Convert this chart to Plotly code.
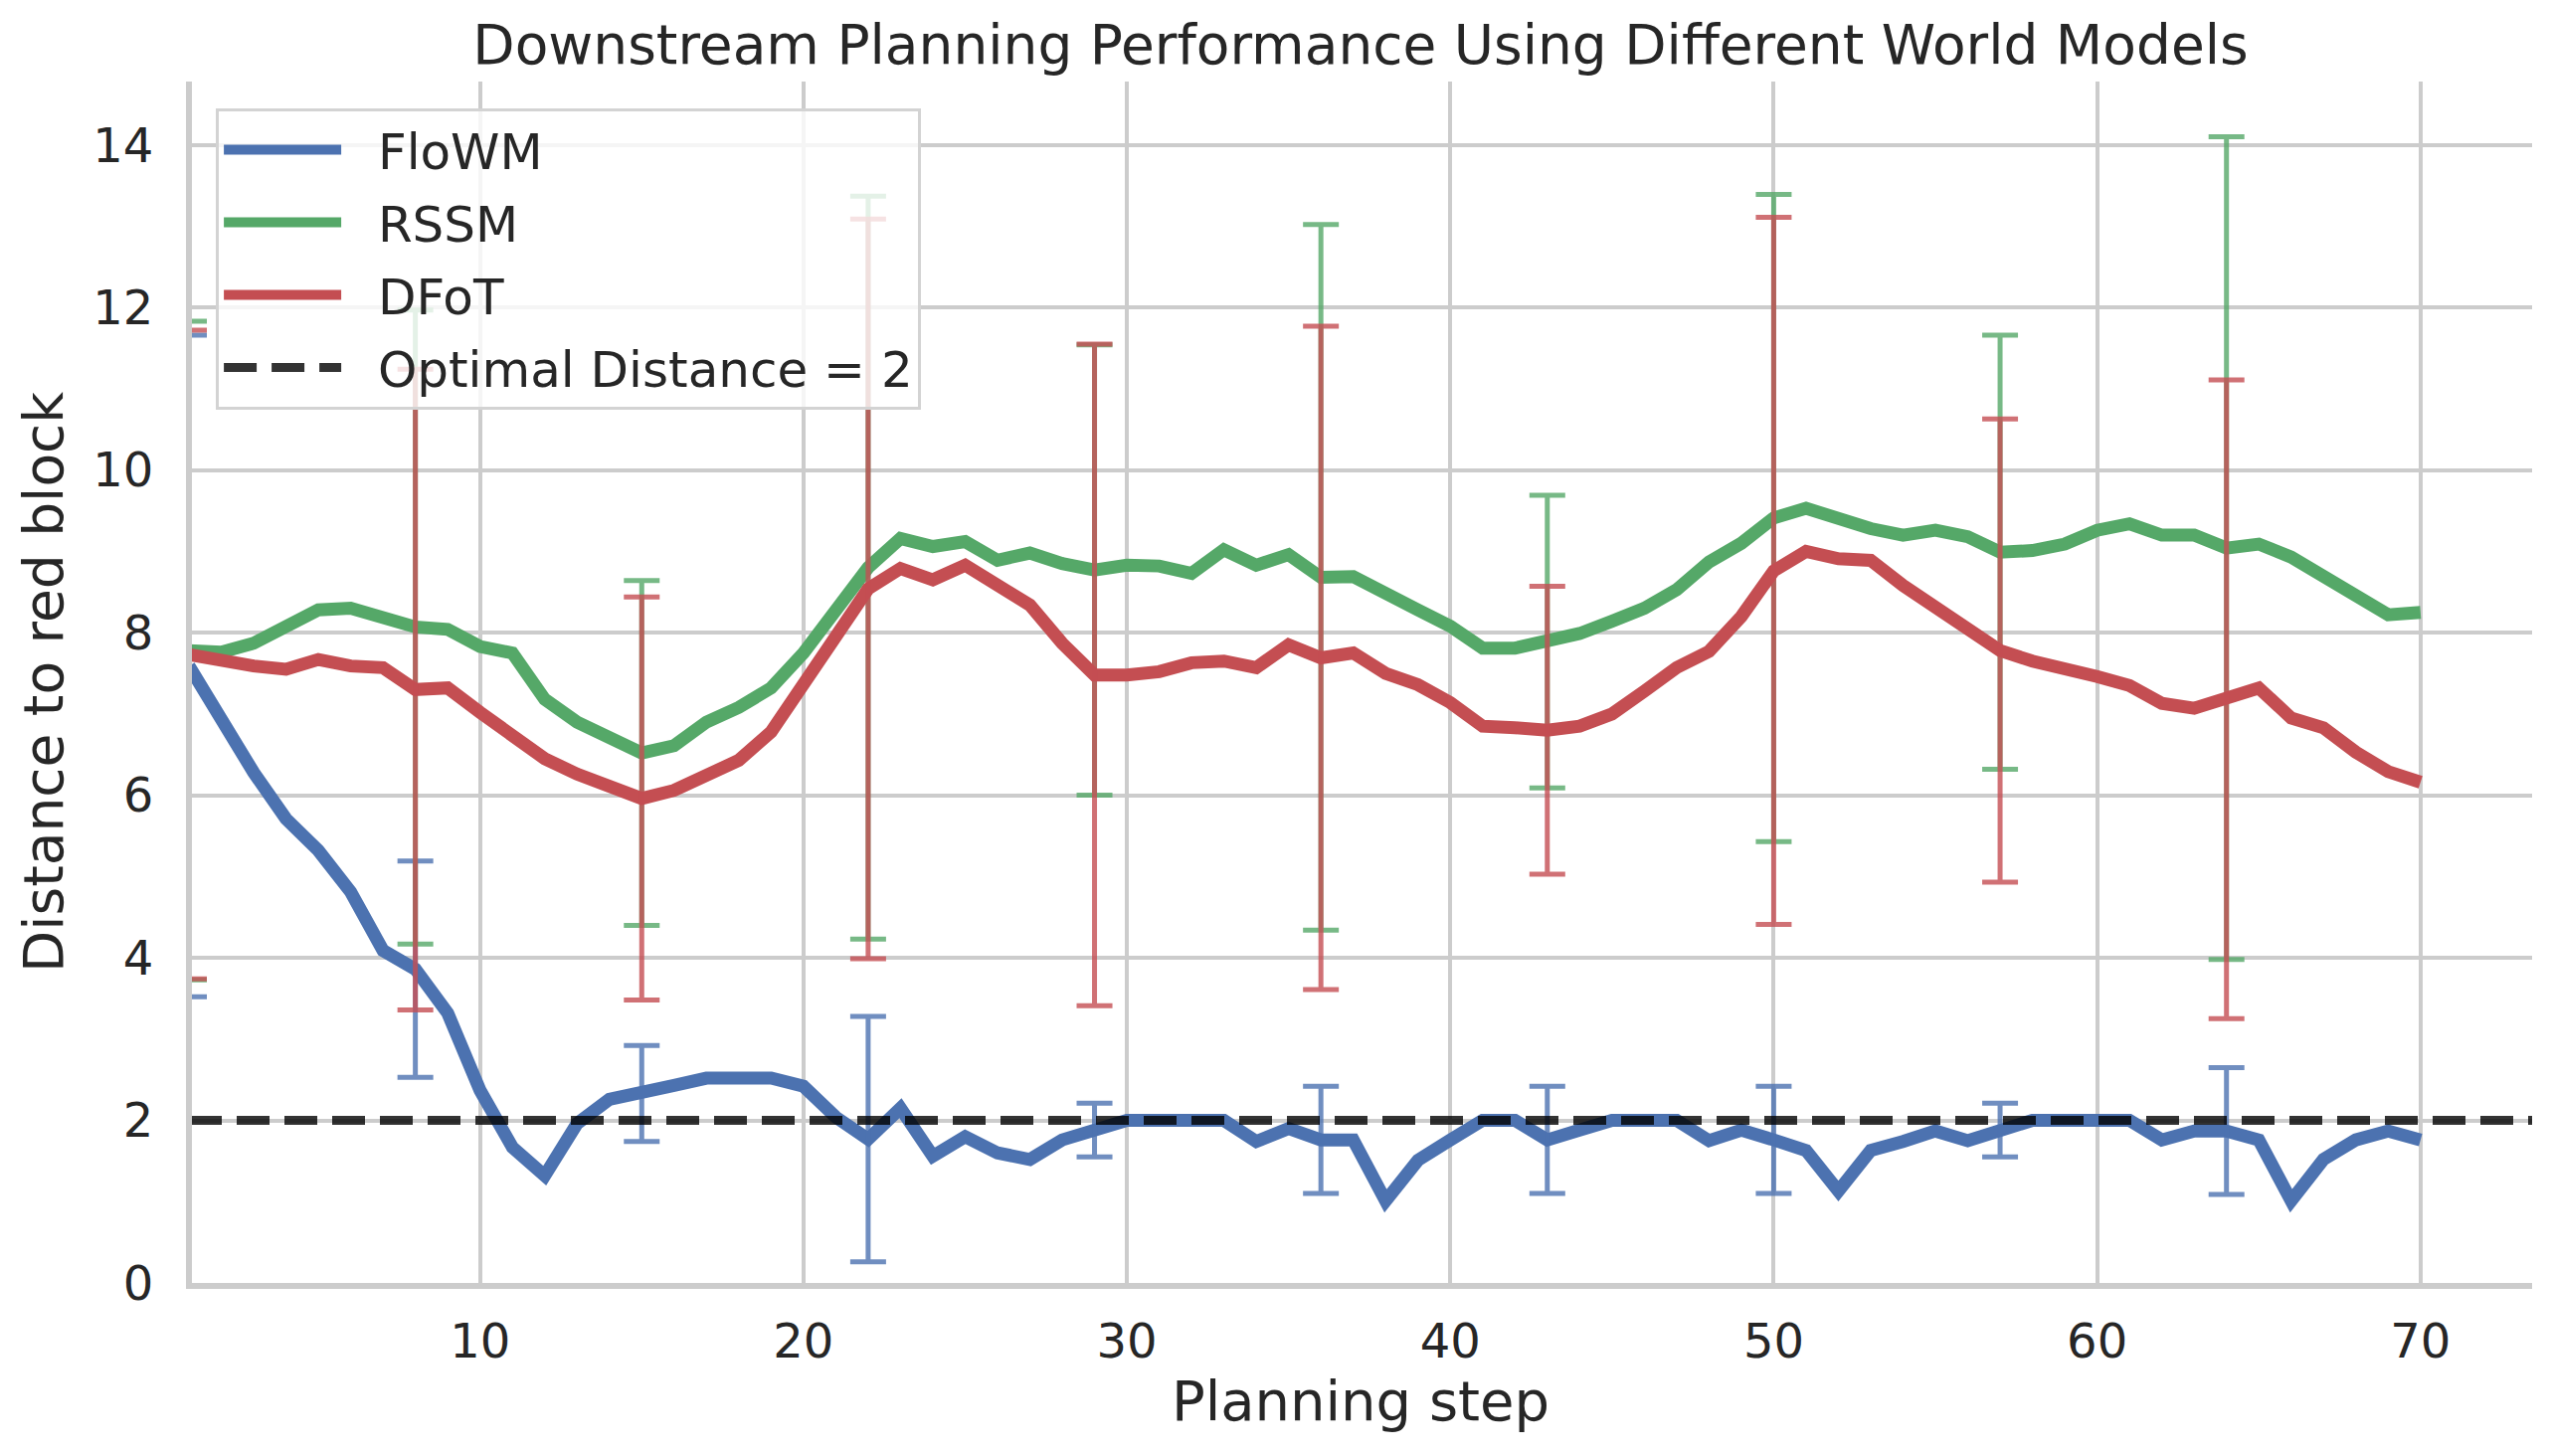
import plotly.graph_objects as go

# ---------------- data ----------------
steps = list(range(1, 71))

flowm = [7.59, 6.94, 6.28, 5.71, 5.32, 4.81, 4.09, 3.86, 3.32, 2.37,
         1.67, 1.32, 1.96, 2.26, 2.33, 2.43, 2.52, 2.52, 2.52, 2.42,
         2.04, 1.77, 2.15, 1.56, 1.80, 1.60, 1.52, 1.76, 1.88, 2.00,
         2.00, 2.00, 2.00, 1.74, 1.90, 1.76, 1.76, 1.01, 1.51, 1.76,
         2.00, 2.00, 1.76, 1.88, 2.00, 2.00, 2.00, 1.75, 1.88, 1.76,
         1.63, 1.13, 1.63, 1.74, 1.87, 1.75, 1.88, 2.00, 2.00, 2.00,
         2.00, 1.76, 1.87, 1.87, 1.76, 1.01, 1.52, 1.76, 1.87, 1.76]

rssm = [7.78, 7.76, 7.87, 8.08, 8.28, 8.30, 8.20, 8.07, 8.04, 7.83,
        7.75, 7.18, 6.90, 6.73, 6.52, 6.61, 6.90, 7.08, 7.32, 7.75,
        8.28, 8.80, 9.16, 9.06, 9.12, 8.89, 8.98, 8.85, 8.77, 8.83,
        8.82, 8.73, 9.02, 8.83, 8.96, 8.68, 8.69, 8.47, 8.28, 8.08,
        7.81, 7.81, 7.89, 7.99, 8.14, 8.30, 8.53, 8.87, 9.10, 9.41,
        9.53, 9.40, 9.28, 9.20, 9.26, 9.18, 8.99, 9.01, 9.09, 9.26,
        9.34, 9.20, 9.20, 9.04, 9.09, 8.93, 8.69, 8.47, 8.22, 8.25]

dfot = [7.73, 7.65, 7.59, 7.55, 7.67, 7.59, 7.57, 7.30, 7.32, 7.02,
        6.71, 6.45, 6.26, 6.10, 5.96, 6.06, 6.24, 6.43, 6.78, 7.35,
        7.92, 8.54, 8.79, 8.65, 8.83, 8.57, 8.34, 7.87, 7.48, 7.48,
        7.52, 7.63, 7.65, 7.57, 7.85, 7.69, 7.75, 7.50, 7.36, 7.14,
        6.85, 6.83, 6.80, 6.85, 7.00, 7.28, 7.57, 7.77, 8.20, 8.76,
        9.00, 8.91, 8.89, 8.58, 8.32, 8.05, 7.78, 7.65, 7.57, 7.46,
        7.35, 7.13, 7.07, 7.18, 7.32, 6.95, 6.83, 6.53, 6.29, 6.16]

err_steps = [1, 8, 15, 22, 29, 36, 43, 50, 57, 64]
flowm_err = [4.07, 1.33, 0.59, 1.51, 0.33, 0.66, 0.66, 0.66, 0.33, 0.78]
rssm_err = [4.05, 3.90, 2.12, 4.57, 2.77, 4.34, 1.80, 3.98, 2.67, 5.06]
dfot_err = [3.99, 3.94, 2.48, 4.55, 4.07, 4.08, 1.77, 4.35, 2.85, 3.93]

optimal_distance = 2
x_min, x_max = 1, 73.45
y_min, y_max = 0, 14.78
x_ticks = [10, 20, 30, 40, 50, 60, 70]
y_ticks = [0, 2, 4, 6, 8, 10, 12, 14]

series = [
    ("FloWM", flowm, flowm_err, "#4C72B0", "rgba(76,114,176,0.8)"),
    ("RSSM", rssm, rssm_err, "#55A868", "rgba(85,168,104,0.8)"),
    ("DFoT", dfot, dfot_err, "#C44E52", "rgba(196,78,82,0.8)"),
]

FONT = "DejaVu Sans"
TXT = "#262626"
SPINE = "#cccccc"
PAD = "\u00a0\u00a0"  # gap between legend sample and label

fig = go.Figure()
for i, (name, vals, errs, col, ecol) in enumerate(series):
    fig.add_trace(go.Scatter(
        x=steps, y=vals, mode="lines", name=PAD + name, legendgroup=f"g{i}",
        line=dict(color=col, width=13),
    ))
    fig.add_trace(go.Scatter(
        x=err_steps, y=[vals[s - 1] for s in err_steps], mode="markers",
        marker=dict(size=1, color="rgba(0,0,0,0)"), legendgroup=f"g{i}",
        error_y=dict(type="data", array=errs, color=ecol, thickness=5, width=18),
        showlegend=False, hoverinfo="skip",
    ))

fig.add_trace(go.Scatter(
    x=[x_min, x_max], y=[optimal_distance, optimal_distance], mode="lines",
    name=PAD + f"Optimal Distance = {optimal_distance}", legendgroup="g3",
    line=dict(color="rgba(0,0,0,0.8)", width=9, dash="33px,15px"),
))

# left spine drawn above the data (as matplotlib does)
fig.add_shape(type="line", xref="x", yref="paper", x0=x_min, x1=x_min, y0=0, y1=1,
              line=dict(color=SPINE, width=6), layer="above")

fig.update_layout(
    template="none",
    width=2566, height=1464,
    margin=dict(l=190, r=20, t=82, b=174, autoexpand=False),
    paper_bgcolor="white", plot_bgcolor="white",
    font=dict(family=FONT, color=TXT, size=48),
    title=dict(
        text="Downstream Planning Performance Using Different World Models",
        font=dict(family=FONT, size=55, color=TXT),
        x=0.5, xref="paper", xanchor="center",
        y=1 - 45 / 1464, yref="container", yanchor="middle",
    ),
    legend=dict(
        x=0.0115, y=0.978, xanchor="left", yanchor="top",
        bgcolor="rgba(255,255,255,0.8)", bordercolor="#d3d3d3", borderwidth=3,
        font=dict(family=FONT, size=50, color=TXT),
        itemwidth=118, tracegroupgap=5, traceorder="grouped",
    ),
    showlegend=True,
)

fig.update_xaxes(
    range=[x_min, x_max], tickvals=x_ticks, ticks="",
    showgrid=True, gridcolor=SPINE, gridwidth=4,
    showline=True, linecolor=SPINE, linewidth=6, mirror=False,
    zeroline=False, automargin=False, layer="above traces",
    ticklabelstandoff=11,
    tickfont=dict(family=FONT, size=48, color=TXT),
    title=dict(text="Planning step", font=dict(family=FONT, size=56, color=TXT), standoff=12),
)
fig.update_yaxes(
    range=[y_min, y_max], tickvals=y_ticks, ticks="",
    showgrid=True, gridcolor=SPINE, gridwidth=4,
    showline=True, linecolor=SPINE, linewidth=3, mirror=False,
    zeroline=False, automargin=False, layer="above traces",
    ticklabelstandoff=23,
    tickfont=dict(family=FONT, size=48, color=TXT),
    title=dict(text="Distance to red block", font=dict(family=FONT, size=55, color=TXT), standoff=13),
)

fig.write_html("out.html")
